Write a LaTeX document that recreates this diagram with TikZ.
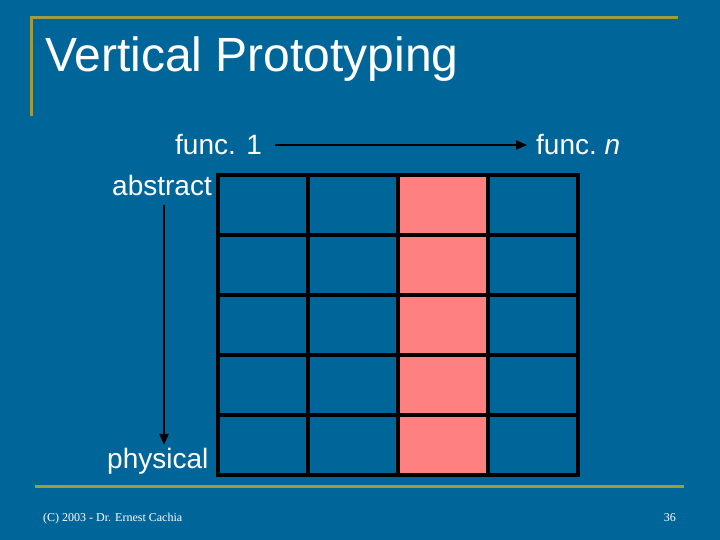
\documentclass[tikz,border=0pt]{standalone}
\usepackage{fontspec}
\setmainfont{Liberation Sans}
\newfontfamily\footfont{Liberation Serif}
\usetikzlibrary{arrows.meta}
\definecolor{slideblue}{RGB}{0,102,153}
\definecolor{rulegold}{RGB}{160,154,64}
\definecolor{salmon}{RGB}{255,128,128}
\tikzset{
  gold rule/.style={
    draw=rulegold,
    line width=3pt
  },
  cell/.style={
    draw=black,
    line width=3.5pt,
    fill=slideblue
  },
  chosen cell/.style={
    cell,
    fill=salmon
  },
  axis arrow/.style={
    -{Triangle[length=11pt, width=9pt]},
    line width=2pt,
    color=black
  },
  label text/.style={
    text=white,
    inner sep=0pt,
    font=\fontsize{28}{34}\selectfont
  },
  foot text/.style={
    text=white,
    inner sep=0pt,
    font=\footfont\fontsize{12}{14}\selectfont
  }
}

\begin{document}
\begin{tikzpicture}[x=1pt, y=-1pt]

    % slide background
    \fill[slideblue] (0,0) rectangle (720,540);
    \useasboundingbox (0,0) rectangle (720,540);

    % gold frame lines
    \draw[gold rule] (31,116) -- (31,18) -- (678,18);
    \draw[gold rule] (35,486) -- (684,486);

    % title
    \node[anchor=base west, text=white, inner sep=0pt,
          font=\fontsize{48}{56}\selectfont] (title) at (45,72) {Vertical Prototyping};

    % grid: 4 functions x 5 levels, third function drawn in full
    \foreach \col/\kind in {0/cell, 1/cell, 2/chosen cell, 3/cell}
      \foreach \row in {0,...,4}
        \draw[\kind] (218+90*\col, 175+60*\row) rectangle ++(90,60);

    % horizontal axis
    \node[label text, anchor=west] (funcone) at (175,145) {func. 1};
    \node[label text, anchor=west] (funcn) at (536,145) {func.~\textit{n}};
    \draw[axis arrow] ([xshift=13pt]funcone.east) -- ([xshift=-9pt]funcn.west);

    % vertical axis
    \node[label text, anchor=base west] (abstract) at (112,196) {abstract};
    \node[label text, anchor=base west] (physical) at (107,468) {physical};
    \coordinate (vtail) at ([xshift=2pt, yshift=-9pt]abstract.south);
    \draw[axis arrow] (vtail) -- ([yshift=2.6pt]vtail |- physical.north);

    % footer
    \node[foot text, anchor=base west] (credit) at (43,521) {(C) 2003 - Dr. Ernest Cachia};
    \node[foot text, anchor=base east] (pagenum) at (676,521) {36};

\end{tikzpicture}
\end{document}
